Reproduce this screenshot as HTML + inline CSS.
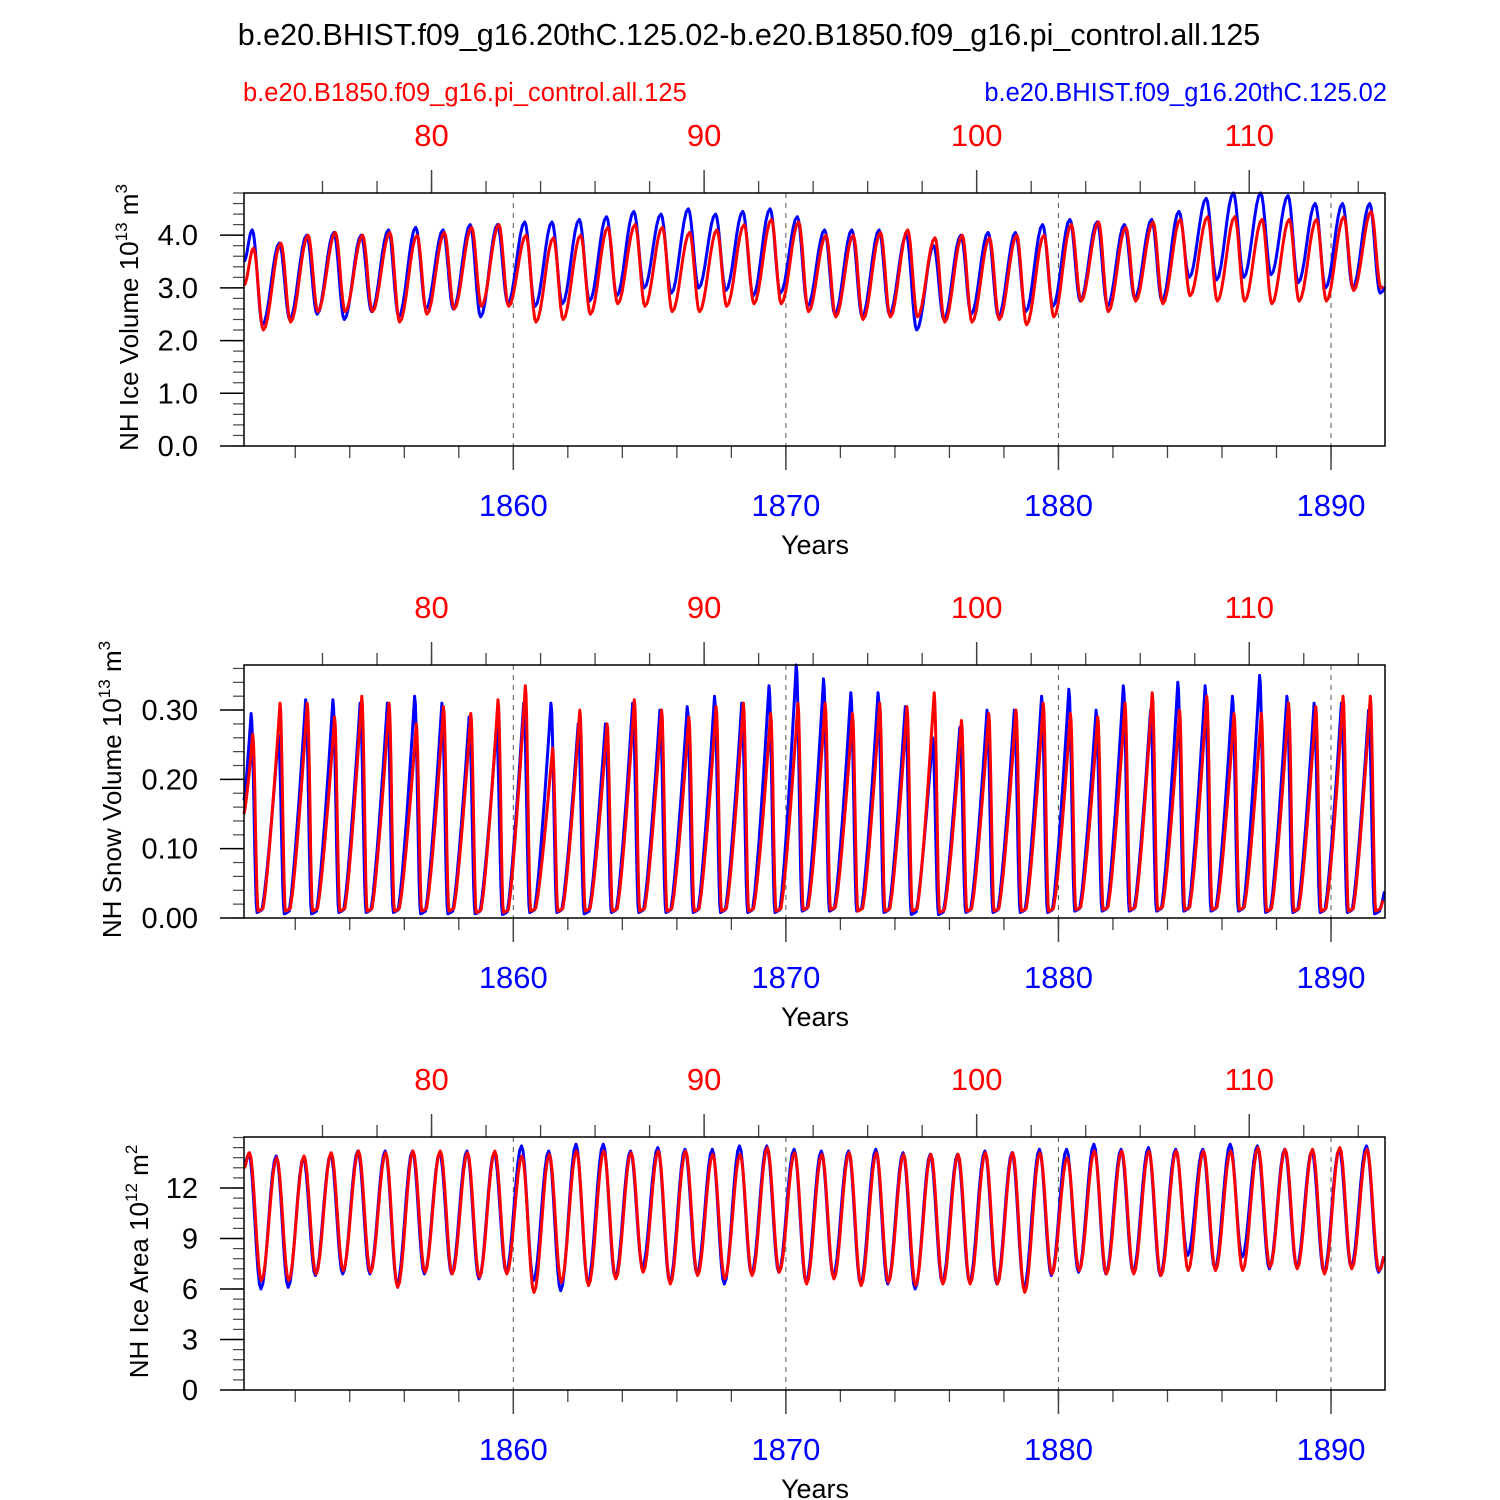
<!DOCTYPE html>
<html><head><meta charset="utf-8"><style>
html,body{margin:0;padding:0;background:#fff}
svg{display:block;font-family:"Liberation Sans",sans-serif}
</style></head><body>
<svg id="chart" width="1500" height="1500" viewBox="0 0 1500 1500">
<text x="749" y="45" font-size="30.5" text-anchor="middle">b.e20.BHIST.f09_g16.20thC.125.02-b.e20.B1850.f09_g16.pi_control.all.125</text>
<text x="243" y="101" font-size="25.5" fill="#ff0000">b.e20.B1850.f09_g16.pi_control.all.125</text>
<text x="1387" y="101" font-size="25.5" fill="#0000ff" text-anchor="end">b.e20.BHIST.f09_g16.20thC.125.02</text>
</svg>
<script>
// years 1850..1891
const years = [];
for (let y = 1850; y <= 1891; y++) years.push(y);
const bottomTicks = [1860, 1870, 1880, 1890];
const topTicks = [80, 90, 100, 110];

const iceVolBluePeak = [4.1,3.85,4.0,4.05,4.0,4.1,4.15,4.1,4.2,4.2,4.25,4.25,4.3,4.35,4.45,4.4,4.5,4.4,4.45,4.5,4.35,4.1,4.1,4.1,4.0,3.8,4.0,4.05,4.05,4.2,4.3,4.25,4.2,4.3,4.45,4.7,4.8,4.8,4.75,4.6,4.6,4.6];
const iceVolBlueMin = [2.3,2.4,2.5,2.4,2.55,2.45,2.6,2.6,2.45,2.7,2.65,2.7,2.75,2.85,3.0,2.9,3.0,2.95,2.85,2.9,2.65,2.5,2.45,2.5,2.2,2.4,2.5,2.45,2.55,2.65,2.75,2.65,2.8,2.75,3.2,3.15,3.2,3.25,3.1,3.0,3.0,2.9];
const iceVolRedPeak = [3.75,3.85,4.0,4.05,4.0,4.05,4.0,4.05,4.15,4.2,4.0,3.95,4.0,4.15,4.2,4.15,4.05,4.1,4.2,4.3,4.25,4.0,4.0,4.05,4.1,3.95,4.0,3.95,4.0,4.0,4.2,4.25,4.15,4.25,4.3,4.35,4.35,4.3,4.3,4.3,4.35,4.45];
const iceVolRedMin = [2.2,2.35,2.55,2.55,2.55,2.35,2.5,2.6,2.65,2.65,2.35,2.4,2.5,2.7,2.65,2.55,2.55,2.65,2.7,2.7,2.55,2.45,2.4,2.45,2.45,2.35,2.35,2.4,2.3,2.45,2.75,2.55,2.75,2.7,2.85,2.75,2.75,2.7,2.75,2.75,2.95,3.0];

const snowBluePeak = [0.295,0.265,0.315,0.315,0.31,0.31,0.32,0.31,0.29,0.275,0.31,0.31,0.28,0.28,0.31,0.3,0.305,0.32,0.31,0.335,0.365,0.345,0.325,0.325,0.305,0.26,0.275,0.3,0.3,0.32,0.33,0.3,0.335,0.3,0.34,0.335,0.32,0.35,0.32,0.31,0.31,0.30];
const snowRedPeak = [0.265,0.31,0.31,0.29,0.32,0.31,0.28,0.305,0.295,0.315,0.335,0.245,0.3,0.28,0.315,0.3,0.29,0.305,0.31,0.295,0.31,0.31,0.295,0.31,0.305,0.325,0.285,0.295,0.3,0.31,0.295,0.29,0.31,0.325,0.3,0.32,0.295,0.295,0.31,0.305,0.32,0.32];
const snowBlueMin = [0.008,0.006,0.006,0.008,0.008,0.008,0.006,0.006,0.006,0.005,0.008,0.008,0.006,0.008,0.008,0.008,0.008,0.008,0.008,0.008,0.01,0.01,0.01,0.008,0.005,0.005,0.008,0.008,0.008,0.008,0.01,0.01,0.01,0.01,0.01,0.01,0.01,0.008,0.008,0.008,0.008,0.006];
const snowRedMin = [0.01,0.01,0.01,0.01,0.01,0.01,0.01,0.01,0.008,0.008,0.01,0.01,0.01,0.01,0.01,0.01,0.01,0.01,0.01,0.01,0.012,0.012,0.01,0.01,0.01,0.008,0.01,0.01,0.01,0.01,0.012,0.012,0.012,0.012,0.012,0.012,0.012,0.01,0.01,0.01,0.01,0.01];

const areaBluePeak = [14.0,13.9,13.8,14.0,14.2,14.2,14.2,14.1,14.2,14.1,14.5,14.2,14.6,14.6,14.2,14.4,14.3,14.3,14.5,14.5,14.3,14.2,14.2,14.3,14.1,14.0,14.0,14.2,14.1,14.3,14.3,14.6,14.3,14.4,14.3,14.3,14.6,14.5,14.3,14.2,14.3,14.5];
const areaBlueMin = [6.0,6.1,6.8,6.9,6.9,6.3,6.9,6.9,6.6,7.0,6.5,5.9,6.4,6.7,7.3,6.4,6.9,6.3,6.9,7.0,6.4,6.8,6.3,6.3,6.0,6.4,6.4,6.3,6.1,6.8,7.0,6.9,7.0,6.8,8.0,7.2,7.9,7.2,7.3,7.0,7.3,7.0];
const areaRedPeak = [14.1,13.8,13.9,14.1,14.2,14.1,14.2,14.2,14.1,14.2,13.9,14.0,14.2,14.2,14.1,14.2,14.2,14.0,14.0,14.4,14.1,14.0,14.1,14.1,14.0,14.0,14.0,14.1,14.1,14.1,13.8,14.2,14.2,14.2,14.2,14.2,14.2,14.4,14.3,14.3,14.4,14.3];
const areaRedMin = [6.5,6.5,6.9,7.1,7.0,6.1,7.0,6.9,6.7,6.9,5.8,6.4,6.2,6.6,7.0,6.3,6.8,6.6,6.8,7.0,6.3,6.6,6.2,6.4,6.2,6.3,6.3,6.3,5.8,6.9,7.1,6.9,6.9,6.8,7.1,7.1,7.1,7.3,7.2,6.9,7.2,7.1];

const X0 = 244, X1 = 1385, T0 = 1850.12, T1 = 1891.98;
const NS = "http://www.w3.org/2000/svg";
const svg = document.getElementById('chart');
function xs(t){ return X0 + (t - T0) / (T1 - T0) * (X1 - X0); }
function el(tag, attrs, parent){ const e = document.createElementNS(NS, tag); for (const k in attrs) e.setAttribute(k, attrs[k]); (parent||svg).appendChild(e); return e; }

function panel(cfg){
  const g = el('g', {});
  
  
  const Y0 = cfg.top, Y1 = cfg.top + 253;
  const ys = v => Y1 - (v - cfg.ymin) / (cfg.ymax - cfg.ymin) * (Y1 - Y0);
  bottomTicks.forEach(t => {
    const l = el('line', {x1: xs(t), x2: xs(t), y1: Y0, y2: Y1, stroke: '#555', 'stroke-width': 1, 'stroke-dasharray': '5,5'}, g);
    
    
  });
  for (let t = 1852; t <= 1891; t += 2) {
    const x = xs(t);
    el('line', {x1: x, x2: x, y1: Y1, y2: Y1 + 12, stroke: '#444', 'stroke-width': 1.3}, g);
    const xt = xs(t + 1);
    el('line', {x1: xt, x2: xt, y1: Y0, y2: Y0 - 12, stroke: '#444', 'stroke-width': 1.3}, g);
  }
  bottomTicks.forEach(t => {
    el('line', {x1: xs(t), x2: xs(t), y1: Y1, y2: Y1 + 24, stroke: '#444', 'stroke-width': 1.5}, g);
    const tx = el('text', {x: xs(t), y: Y1 + 70, 'font-size': 31, fill: '#0000ff', 'text-anchor': 'middle'}, g);
    tx.textContent = t;
    
    
  });
  topTicks.forEach(t => {
    const x = xs(t + 1777);
    el('line', {x1: x, x2: x, y1: Y0, y2: Y0 - 23, stroke: '#444', 'stroke-width': 1.5}, g);
    const tx = el('text', {x: x, y: Y0 - 47, 'font-size': 31, fill: '#ff0000', 'text-anchor': 'middle'}, g);
    tx.textContent = t;
    
    
  });
  for (let v = cfg.ymin; v <= cfg.ymax + 1e-9; v += cfg.minor) {
    el('line', {x1: X0 - 11, x2: X0, y1: ys(v), y2: ys(v), stroke: '#444', 'stroke-width': 1.2}, g);
  }
  cfg.yticks.forEach((v, i) => {
    el('line', {x1: X0 - 24, x2: X0, y1: ys(v), y2: ys(v), stroke: '#000', 'stroke-width': 1.5}, g);
    const tx = el('text', {x: X0 - 46, y: ys(v) + 10, 'font-size': 29, 'text-anchor': 'end'}, g);
    tx.textContent = cfg.ylabels[i];
    
    
  });
  cfg.series.forEach(s => {
    const nodes = [[T0, s.start]];
    years.forEach((y, i) => {
      if (s.snow) {
        nodes.push([y + s.pk, s.peak[i]]);
        nodes.push([y + s.tr, s.min[i]]);
        nodes.push([y + s.tr + 0.18, s.min[i] + 0.004]);
      } else {
        nodes.push([y + s.pk, s.peak[i]]);
        nodes.push([y + s.tr, s.min[i]]);
      }
    });
    nodes.push([1892.5, s.end]);
    const pts = [];
    for (let k = 0; k < nodes.length - 1; k++) {
      const [ta, va] = nodes[k], [tb, vb] = nodes[k + 1];
      const n = 8;
      for (let j = 0; j < n; j++) {
        const f = j / n;
        let w;
        if (s.snow) w = (vb > va) ? Math.pow(f, 1.25) : (1 - Math.cos(Math.PI * f)) / 2;
        else w = (1 - Math.cos(Math.PI * f)) / 2;
        const t = ta + (tb - ta) * f;
        if (t < T0 || t > T1) continue;
        pts.push(xs(t).toFixed(1) + ',' + ys(va + (vb - va) * w).toFixed(1));
      }
    }
    const p = el('polyline', {points: pts.join(' '), fill: 'none', stroke: s.color, 'stroke-width': 3, 'stroke-linejoin': 'round'}, g);
    
    
  });
  const fr = el('rect', {x: X0, y: Y0, width: X1 - X0, height: Y1 - Y0, fill: 'none', stroke: '#000', 'stroke-width': 1.5}, g);
  
  
  const xt = el('text', {x: 815, y: Y1 + 108, 'font-size': 27, 'text-anchor': 'middle'}, g);
  xt.textContent = 'Years';
  
  
  const cy = (Y0 + Y1) / 2 - 2;
  const yt = el('text', {x: 0, y: 0, 'font-size': 26, 'text-anchor': 'middle', transform: `translate(${cfg.labelX},${cy}) rotate(-90)`}, g);
  yt.innerHTML = cfg.label + ' 10<tspan dy="-11" font-size="17">' + cfg.exp + '</tspan><tspan dy="11"> m</tspan><tspan dy="-11" font-size="17">' + cfg.unitExp + '</tspan>';
  
  
}

panel({name: 'ice-volume-panel', top: 193, ymin: 0, ymax: 4.8, minor: 0.2,
  yticks: [0,1,2,3,4], ylabels: ['0.0','1.0','2.0','3.0','4.0'], labelX: 138,
  label: 'NH Ice Volume', exp: '13', unitExp: '3',
  series: [
    {name: 'ice-volume-hist-line', color: '#0000ff', peak: iceVolBluePeak, min: iceVolBlueMin, pk: 0.42, tr: 0.8, start: 3.5, end: 3.7},
    {name: 'ice-volume-control-line', color: '#ff0000', peak: iceVolRedPeak, min: iceVolRedMin, pk: 0.47, tr: 0.83, start: 3.05, end: 3.7}
  ]});
panel({snowPanel: true, name: 'snow-volume-panel', top: 665, ymin: 0, ymax: 0.365, minor: 0.02,
  yticks: [0,0.1,0.2,0.3], ylabels: ['0.00','0.10','0.20','0.30'], labelX: 121,
  label: 'NH Snow Volume', exp: '13', unitExp: '3',
  series: [
    {snow: true, name: 'snow-volume-hist-line', color: '#0000ff', peak: snowBluePeak, min: snowBlueMin, pk: 0.38, tr: 0.6, start: 0.17, end: 0.17},
    {snow: true, name: 'snow-volume-control-line', color: '#ff0000', peak: snowRedPeak, min: snowRedMin, pk: 0.44, tr: 0.64, start: 0.15, end: 0.17}
  ]});
panel({name: 'ice-area-panel', top: 1137, ymin: 0, ymax: 15.03, minor: 0.6,
  yticks: [0,3,6,9,12], ylabels: ['0','3','6','9','12'], labelX: 148,
  label: 'NH Ice Area', exp: '12', unitExp: '2',
  series: [
    {name: 'ice-area-hist-line', color: '#0000ff', peak: areaBluePeak, min: areaBlueMin, pk: 0.3, tr: 0.74, start: 13.4, end: 13.4},
    {name: 'ice-area-control-line', color: '#ff0000', peak: areaRedPeak, min: areaRedMin, pk: 0.32, tr: 0.76, start: 13.2, end: 12.8}
  ]});
</script>
</body></html>
